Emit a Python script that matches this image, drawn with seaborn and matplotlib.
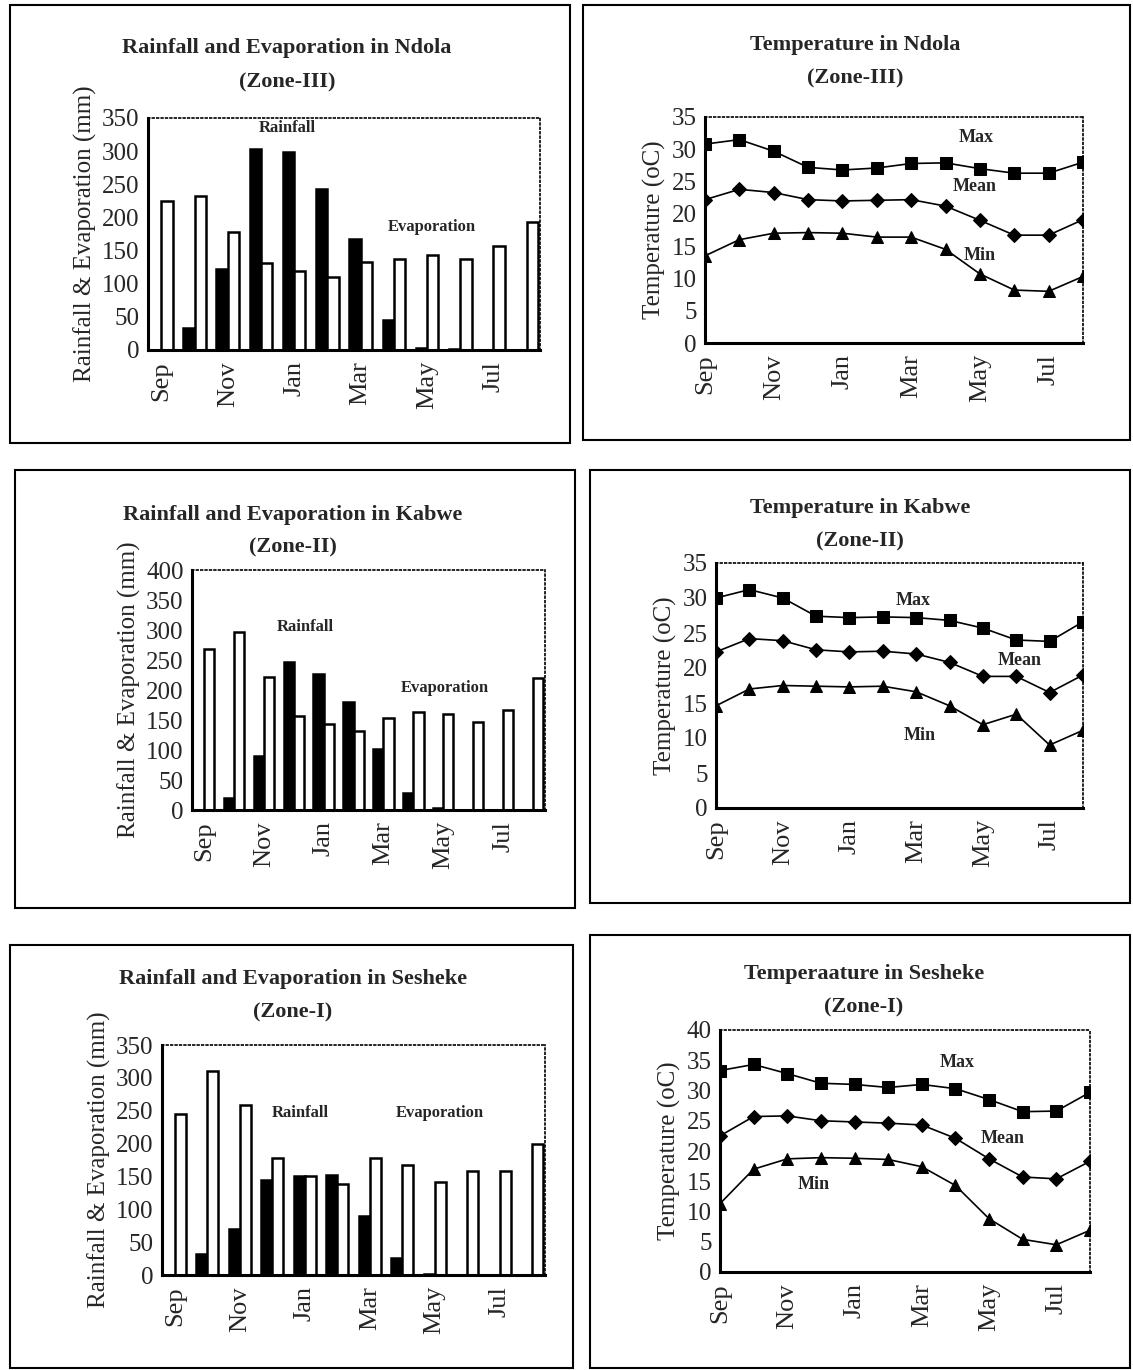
import numpy as np
import pandas as pd
import seaborn as sns
from matplotlib import pyplot as plt
from matplotlib.patches import Rectangle

# months, ticks every second month
months = ['Sep', 'Oct', 'Nov', 'Dec', 'Jan', 'Feb', 'Mar', 'Apr', 'May', 'Jun', 'Jul', 'Aug']
tick_months = ['Sep', 'Nov', 'Jan', 'Mar', 'May', 'Jul']

# Ndola (Zone-III)
ndola_rain = [0, 33, 122, 303, 298, 243, 168, 46, 3, 1, 0, 0]
ndola_evap = [225, 232, 178, 131, 119, 110, 133, 137, 143, 138, 157, 193]
ndola_max = [30.8, 31.5, 29.7, 27.2, 26.8, 27.1, 27.8, 27.9, 27.0, 26.3, 26.3, 28.0]
ndola_mean = [22.2, 23.8, 23.3, 22.2, 22.0, 22.1, 22.2, 21.2, 19.0, 16.7, 16.7, 19.1]
ndola_min = [13.5, 16.0, 17.0, 17.1, 17.0, 16.4, 16.4, 14.5, 10.7, 8.2, 8.0, 10.3]

# Kabwe (Zone-II)
kabwe_rain = [0, 20, 90, 246, 227, 180, 101, 28, 4, 0, 0, 0]
kabwe_evap = [268, 296, 222, 156, 143, 131, 153, 163, 160, 147, 166, 220]
kabwe_max = [30.0, 31.2, 30.0, 27.4, 27.2, 27.3, 27.2, 26.8, 25.7, 24.0, 23.8, 26.6]
kabwe_mean = [22.3, 24.2, 23.9, 22.6, 22.3, 22.4, 22.0, 20.8, 18.8, 18.8, 16.5, 19.0]
kabwe_min = [14.6, 17.0, 17.5, 17.4, 17.3, 17.4, 16.6, 14.6, 11.9, 13.4, 9.0, 11.1]

# Sesheke (Zone-I)
sesheke_rain = [0, 32, 70, 145, 151, 152, 90, 26, 1, 0, 0, 0]
sesheke_evap = [245, 310, 258, 178, 150, 138, 178, 168, 142, 158, 158, 200]
sesheke_max = [33.3, 34.3, 32.8, 31.2, 31.0, 30.5, 31.0, 30.3, 28.5, 26.5, 26.6, 29.7]
sesheke_mean = [22.5, 25.7, 25.8, 25.0, 24.8, 24.6, 24.3, 22.1, 18.7, 15.7, 15.4, 18.3]
sesheke_min = [11.3, 17.0, 18.7, 18.9, 18.8, 18.6, 17.4, 14.3, 8.8, 5.4, 4.5, 6.9]

sns.set_style('white')
plt.rcParams['font.family'] = ['Liberation Serif', 'DejaVu Serif']

W, H = 1133, 1370
fig = plt.figure(figsize=(W / 100, H / 100), dpi=100)


def px_axes(x0, y0, x1, y1):
    # pixel box (top-left origin) -> figure axes
    return fig.add_axes([x0 / W, 1 - y1 / H, (x1 - x0) / W, (y1 - y0) / H])


def style_axes(ax):
    for s in ['left', 'bottom']:
        ax.spines[s].set_linewidth(2.2)
        ax.spines[s].set_color('black')
    for s in ['top', 'right']:
        ax.spines[s].set_linestyle(':')
        ax.spines[s].set_linewidth(1.2)
        ax.spines[s].set_color('black')
    ax.tick_params(axis='y', labelsize=18, length=0, pad=6)
    ax.tick_params(axis='x', labelsize=19, length=0, pad=8, labelrotation=90)


def bar_panel(box, rain, evap, ymax, yticks, texts):
    ax = px_axes(*box)
    df = pd.DataFrame({'Month': months * 2,
                       'mm': rain + evap,
                       'Type': ['Rainfall'] * 12 + ['Evaporation'] * 12})
    sns.barplot(data=df, x='Month', y='mm', hue='Type', order=months,
                palette={'Rainfall': 'black', 'Evaporation': 'white'},
                edgecolor='black', linewidth=1.8, width=0.68, legend=False, ax=ax)
    ax.set_xlim(-0.4, 11.4)
    ax.set_ylim(0, ymax)
    ax.set_yticks(yticks)
    ax.set_xticks([months.index(m) for m in tick_months])
    ax.set_xticklabels(tick_months)
    ax.set_xlabel('')
    ax.set_ylabel('Rainfall & Evaporation (mm)', fontsize=18)
    style_axes(ax)
    for label, x, y in texts:
        ax.text(x, y, label, fontsize=12, fontweight='bold', ha='center', va='center')
    return ax


def temp_panel(box, tmax, tmean, tmin, ymax, texts):
    ax = px_axes(*box)
    x = np.arange(12)
    for vals, mk, ms in [(tmax, 's', 9), (tmean, 'D', 7), (tmin, '^', 9)]:
        sns.lineplot(x=x, y=vals, color='black', marker=mk, markersize=ms,
                     markeredgecolor='black', linewidth=1.2, ax=ax)
    ax.set_xlim(0, 11)
    ax.set_ylim(0, ymax)
    ax.set_yticks(np.arange(0, ymax + 1, 5))
    ax.set_xticks([months.index(m) for m in tick_months])
    ax.set_xticklabels(tick_months)
    ax.set_ylabel('Temperature (oC)', fontsize=18)
    style_axes(ax)
    for label, tx, ty in texts:
        ax.text(tx, ty, label, fontsize=13, fontweight='bold', ha='center', va='center')
    return ax


def title(x, y1, y2, line1, line2):
    fig.text(x / W, 1 - y1 / H, line1, fontsize=16, fontweight='bold', ha='center', va='center')
    fig.text(x / W, 1 - y2 / H, line2, fontsize=16, fontweight='bold', ha='center', va='center')


def frame(x0, y0, x1, y1):
    fig.add_artist(Rectangle((x0 / W, 1 - y1 / H), (x1 - x0) / W, (y1 - y0) / H,
                             transform=fig.transFigure, fill=False,
                             edgecolor='black', linewidth=1.5))


# panel frames
frame(10, 5, 570, 443)
frame(583, 5, 1130, 440)
frame(15, 470, 575, 908)
frame(590, 470, 1130, 903)
frame(10, 945, 573, 1368)
frame(590, 935, 1130, 1368)

# Ndola
title(287, 48, 82, 'Rainfall and Evaporation in Ndola', '(Zone-III)')
bar_panel((148, 118, 540, 350), ndola_rain, ndola_evap, 350, range(0, 351, 50),
          [('Rainfall', 3.8, 335), ('Evaporation', 8.15, 185)])
title(855, 45, 78, 'Temperature in Ndola', '(Zone-III)')
temp_panel((705, 117, 1083, 343), ndola_max, ndola_mean, ndola_min, 35,
           [('Max', 7.9, 31.8), ('Mean', 7.85, 24.2), ('Min', 8.0, 13.6)])

# Kabwe
title(293, 515, 547, 'Rainfall and Evaporation in Kabwe', '(Zone-II)')
bar_panel((192, 570, 545, 810), kabwe_rain, kabwe_evap, 400, range(0, 401, 50),
          [('Rainfall', 3.4, 305), ('Evaporation', 8.05, 203)])
title(860, 508, 541, 'Temperature in Kabwe', '(Zone-II)')
temp_panel((716, 563, 1083, 808), kabwe_max, kabwe_mean, kabwe_min, 35,
           [('Max', 5.9, 29.7), ('Mean', 9.1, 21.1), ('Min', 6.1, 10.4)])

# Sesheke
title(293, 979, 1012, 'Rainfall and Evaporation in Sesheke', '(Zone-I)')
bar_panel((162, 1045, 545, 1275), sesheke_rain, sesheke_evap, 350, range(0, 351, 50),
          [('Rainfall', 3.85, 246), ('Evaporation', 8.15, 246)])
title(864, 974, 1007, 'Temperaature in Sesheke', '(Zone-I)')
temp_panel((720, 1030, 1090, 1272), sesheke_max, sesheke_mean, sesheke_min, 40,
           [('Max', 7.05, 34.7), ('Mean', 8.4, 22.1), ('Min', 2.8, 14.4)])

fig.savefig('out.png', dpi=100)
